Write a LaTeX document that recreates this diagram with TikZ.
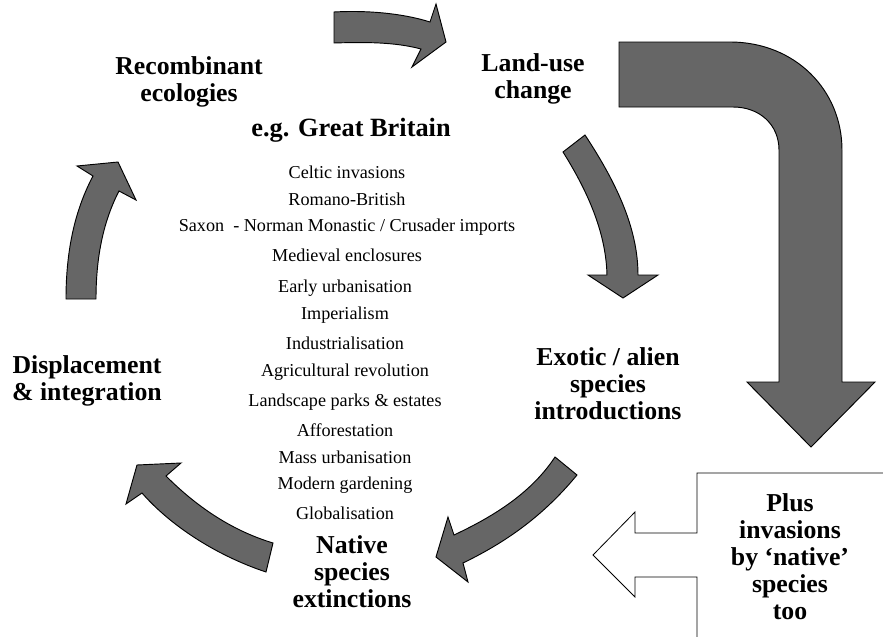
\documentclass[tikz,border=0pt]{standalone}
\usepackage{fontspec}
\setmainfont{Liberation Serif}
\usepackage{xcolor}
\definecolor{ArrowFill}{RGB}{102,102,102}

\begin{document}
\begin{tikzpicture}[
    x=0.03cm, y=-0.03cm,
    bigarrow/.style={draw=black, fill=ArrowFill, line width=0.8pt, line join=miter},
    outline/.style={draw=black, line width=0.7pt},
    stage/.style={font=\fontsize{22}{23}\selectfont\bfseries, align=center, inner sep=0pt},
    item/.style={font=\fontsize{15.5}{17}\selectfont, inner sep=0pt}
]
\useasboundingbox (0,0) rectangle (883,637);

%% ---- STAGE LABELS (round the cycle) ----
\node[stage] (recomb)  at (189,82)  {Recombinant\\ecologies};
\node[stage] (landuse) at (533,79)  {Land-use\\change};
\node[stage] (exotic)  at (608,384) {Exotic / alien\\species\\introductions};
\node[stage] (native)  at (352,572) {Native\\species\\extinctions};
\node[stage] (displ)   at (87,381)  {Displacement\\\& integration};
\node[stage] (plus)    at (790,557) {Plus\\invasions\\by `native'\\species\\too};

%% ---- HISTORY LIST ----
\node[stage, font=\fontsize{22.5}{24}\selectfont\bfseries] (gb) at (351,130) {e.g. Great Britain};
\node[item]  (celtic)  at (347,172) {Celtic invasions};
\node[item]  (romano)  at (347,199) {Romano-British};
\node[item]  (saxon)   at (347,227) {Saxon\ \ - Norman Monastic / Crusader imports};
\node[item]  (mediev)  at (347,255) {Medieval enclosures};
\node[item]  (early)   at (345,288) {Early urbanisation};
\node[item]  (imper)   at (345,315) {Imperialism};
\node[item]  (indust)  at (345,343) {Industrialisation};
\node[item]  (agri)    at (345,372) {Agricultural revolution};
\node[item]  (landsc)  at (345,402) {Landscape parks \& estates};
\node[item]  (affor)   at (345,430) {Afforestation};
\node[item]  (mass)    at (345,457) {Mass urbanisation};
\node[item]  (modern)  at (345,485) {Modern gardening};
\node[item]  (global)  at (345,513) {Globalisation};

%% ---- CYCLE ARROWS ----
% recombinant -> land-use
\draw[bigarrow] (334,12) .. controls (370,10) and (405,14) .. (430,22) -- (436,4)
    -- (446,42) -- (412,67) -- (421,49) .. controls (395,42) and (365,42) .. (334,43) -- cycle;
% land-use -> exotic
\draw[bigarrow] (585,135) .. controls (618,185) and (638,230) .. (638,275) -- (658,275)
    -- (623,298) -- (588,275) -- (607,275) .. controls (606,235) and (590,195) .. (563,152) -- cycle;
% exotic -> native
\draw[bigarrow] (577,475) .. controls (540,520) and (500,545) .. (463,563) -- (468,582)
    -- (436,557) -- (448,517) -- (454,535) .. controls (490,518) and (530,495) .. (555,457) -- cycle;
% native -> displacement
\draw[bigarrow] (266,572) .. controls (215,555) and (170,525) .. (142,493) -- (126,504)
    -- (137,465) -- (181,463) -- (166,476) .. controls (195,505) and (230,530) .. (273,543) -- cycle;
% displacement -> recombinant
\draw[bigarrow] (66,299) .. controls (66,250) and (75,210) .. (93,176) -- (77,166)
    -- (118,162) -- (136,200) -- (119,191) .. controls (104,220) and (96,255) .. (96,299) -- cycle;

%% ---- SIDE ROUTE ----
\draw[bigarrow] (619,42) -- (730,42) .. controls (795,42) and (842,90) .. (842,150) -- (842,382)
    -- (875,382) -- (811,447) -- (747,382) -- (779,382) -- (779,150)
    .. controls (779,125) and (760,107) .. (733,107) -- (619,107) -- cycle;
\draw[outline] (884,473) -- (697,473) -- (697,533) -- (635,533) -- (635,512) -- (593,555)
    -- (635,597) -- (635,577) -- (697,577) -- (697,638);

\end{tikzpicture}
\end{document}
